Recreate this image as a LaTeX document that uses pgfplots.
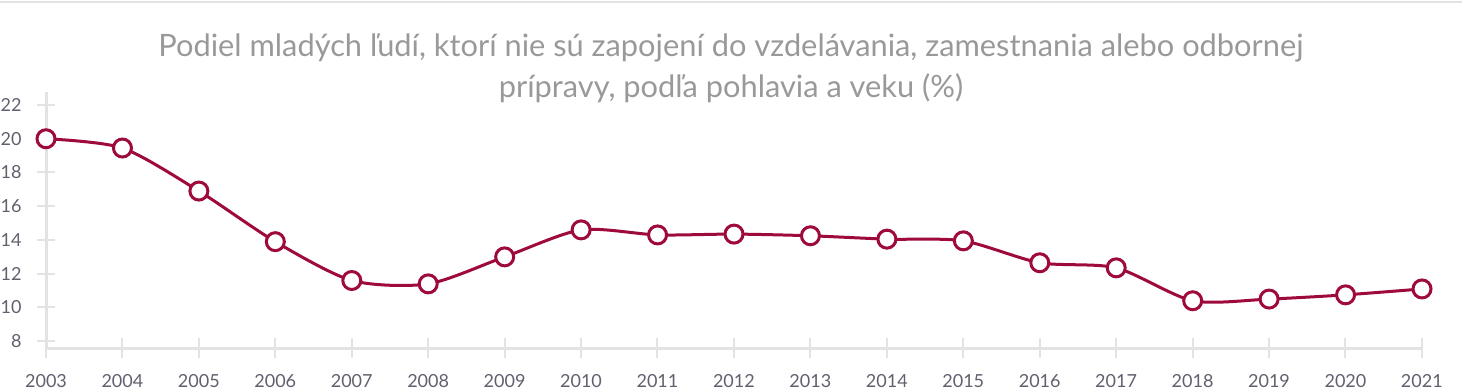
\documentclass[border=0pt]{standalone}
\usepackage{fontspec}
\setmainfont{Lato}
\usepackage{pgfplots}
\pgfplotsset{compat=1.18}
\definecolor{linered}{HTML}{9E0A3C}
\definecolor{axgray}{HTML}{E3E3E3}
\definecolor{ticklab}{HTML}{60606E}
\definecolor{titlegray}{HTML}{999999}
\begin{document}
\begin{tikzpicture}
\path[use as bounding box] (0bp,0bp) rectangle (731bp,195bp);
\draw[axgray, line width=1bp] (0bp,194bp) -- (731bp,194bp);
\node[align=center, text=titlegray, font=\fontsize{15.4bp}{20.5bp}\selectfont] at (365.5bp,161bp) {Podiel mladých ľudí, ktorí nie sú zapojení do vzdelávania, zamestnania alebo odbornej\\prípravy, podľa pohlavia a veku (\%)};
\begin{axis}[
  at={(23bp,21bp)}, anchor=south west,
  scale only axis, width=688bp, height=128bp,
  xmin=2003, xmax=2021, ymin=7.6, ymax=22.77,
  clip=false,
  axis x line*=bottom, axis y line*=left,
  axis line style={axgray, line width=1.5bp, -},
  xtick={2003,...,2021}, ytick={8,10,...,22},
  x tick label style={/pgf/number format/1000 sep=, text=ticklab, font=\fontsize{9bp}{10bp}\selectfont, yshift=-5bp},
  y tick label style={text=ticklab, font=\fontsize{9bp}{10bp}\selectfont, xshift=-4bp},
  /pgf/number format/assume math mode=true,
  tick align=center, major tick length=9.5bp,
  tick style={axgray, line width=1bp},
]
\addplot[linered, line width=1.5bp, smooth, tension=0.45, mark=*, mark size=4.5bp,
  mark options={fill=white, draw=linered, line width=1.5bp}] coordinates {
(2003,20.0) (2004,19.45) (2005,16.9) (2006,13.9) (2007,11.6) (2008,11.4)
(2009,13.0) (2010,14.6) (2011,14.3) (2012,14.35) (2013,14.25) (2014,14.05)
(2015,13.95) (2016,12.65) (2017,12.35) (2018,10.4) (2019,10.5) (2020,10.75) (2021,11.1)
};
\end{axis}
\end{tikzpicture}
\end{document}
